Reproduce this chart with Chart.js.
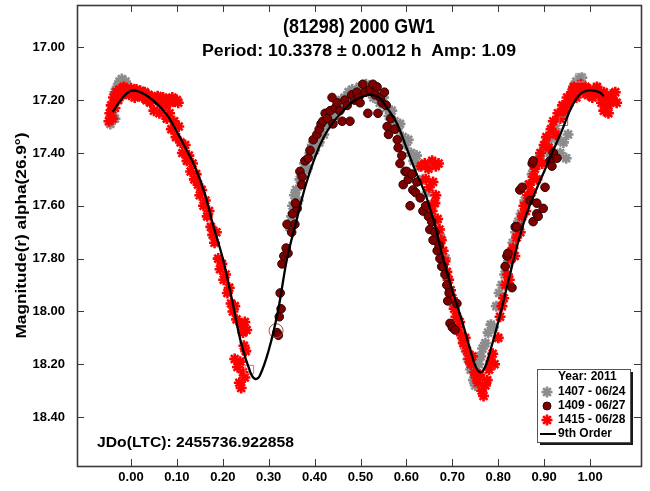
<!DOCTYPE html>
<html>
<head>
<meta charset="utf-8">
<script src="https://cdn.jsdelivr.net/npm/chart.js@4/dist/chart.umd.min.js"></script>
<style>
  html, body { margin: 0; padding: 0; background: #ffffff; }
  #wrap { width: 650px; height: 491px; }
</style>
</head>
<body>
<div id="wrap"><canvas id="lc" width="650" height="491"></canvas></div>
<script>
// ---- axis ticks ----
const xTicks = [0.0, 0.1, 0.2, 0.3, 0.4, 0.5, 0.6, 0.7, 0.8, 0.9, 1.0];
const yTicks = [17.0, 17.2, 17.4, 17.6, 17.8, 18.0, 18.2, 18.4];

// ---- 9th order Fourier fit ----
const fitPhase = [-0.04,-0.02,0.00,0.02,0.04,0.06,0.08,0.10,0.12,0.14,0.16,0.18,0.20,0.22,0.24,0.26,0.27,0.28,0.30,0.32,0.34,0.36,0.38,0.40,0.42,0.44,0.46,0.48,0.50,0.52,0.54,0.56,0.58,0.60,0.62,0.64,0.66,0.68,0.70,0.72,0.74,0.75,0.76,0.77,0.78,0.80,0.82,0.84,0.86,0.88,0.90,0.92,0.94,0.96,0.98,1.00,1.02,1.03];
const fitMag   = [17.245,17.195,17.165,17.17,17.19,17.22,17.26,17.32,17.385,17.455,17.55,17.68,17.80,17.955,18.12,18.23,18.255,18.245,18.147,18.00,17.80,17.66,17.525,17.42,17.34,17.285,17.245,17.21,17.19,17.18,17.19,17.235,17.29,17.38,17.47,17.55,17.66,17.80,17.92,18.03,18.15,18.205,18.23,18.215,18.165,18.04,17.90,17.76,17.64,17.55,17.47,17.39,17.31,17.225,17.175,17.163,17.17,17.185];

// ---- session 1407 (2011-06-24) ----
const s1407Phase = [-0.045,-0.042,-0.038,-0.035,-0.035,-0.030,-0.025,-0.020,-0.012,
  0.345,0.350,0.352,0.356,0.360,0.364,0.368,0.372,0.378,0.384,0.390,0.395,0.400,0.405,0.410,0.415,0.420,0.428,0.435,0.442,0.450,0.458,0.466,0.474,0.482,0.490,0.498,0.505,0.512,0.520,0.528,0.535,0.542,0.550,0.556,0.562,0.568,0.574,0.580,0.586,0.592,0.598,0.604,0.610,0.616,0.622,0.628,
  0.636,0.645,0.655,0.665,0.675,0.685,0.690,0.696,0.702,0.710,0.716,0.722,0.728,0.734,0.740,0.746,0.750,0.754,0.758,0.762,
  0.766,0.772,0.778,0.784,0.790,0.796,0.802,0.808,0.814,0.820,0.826,0.832,0.838,0.844,0.850,0.858,0.866,0.874,0.882,0.890,0.898,0.906,0.912,0.918,0.924,0.930,0.935,0.942,0.948,0.952,0.944,0.952,0.958,0.964,0.970,0.976,0.982];
const s1407Mag = [17.29,17.25,17.21,17.17,17.27,17.15,17.13,17.12,17.13,
  17.68,17.64,17.60,17.56,17.54,17.58,17.50,17.47,17.44,17.46,17.40,17.37,17.39,17.34,17.36,17.31,17.33,17.29,17.27,17.26,17.22,17.20,17.19,17.17,17.16,17.18,17.15,17.17,17.14,17.16,17.19,17.17,17.21,17.19,17.23,17.26,17.24,17.28,17.31,17.29,17.34,17.37,17.35,17.40,17.43,17.41,17.45,
  17.50,17.55,17.60,17.66,17.72,17.80,17.88,17.92,17.97,18.02,18.07,18.10,18.14,18.18,18.22,18.26,18.28,18.24,18.20,18.17,
  18.14,18.12,18.08,18.05,18.06,17.98,17.93,17.90,17.86,17.82,17.78,17.74,17.70,17.66,17.63,17.58,17.52,17.48,17.44,17.42,17.39,17.36,17.40,17.34,17.31,17.35,17.40,17.36,17.42,17.33,17.25,17.22,17.18,17.15,17.13,17.12,17.115];

// ---- session 1409 (2011-06-27) ----
const s1409Phase = [0.318,0.321,0.323,0.327,0.325,0.329,0.333,0.338,0.342,0.340,0.350,0.352,0.357,0.362,0.358,
  0.368,0.372,0.373,0.379,0.386,0.390,0.397,0.405,0.410,0.414,0.418,0.423,0.428,0.434,0.438,0.440,0.445,0.449,0.455,0.460,0.466,0.471,0.477,0.481,0.487,0.492,0.496,0.499,0.505,0.510,0.516,0.521,0.527,0.532,0.536,0.538,0.543,0.547,0.552,0.556,0.558,0.561,0.566,0.575,0.580,0.582,0.586,0.590,0.593,0.597,0.601,0.604,0.608,0.612,0.614,0.620,0.623,0.630,0.636,0.642,0.648,0.651,0.655,0.658,0.662,0.667,0.671,0.673,0.677,0.680,0.684,0.688,0.690,0.693,0.695,0.700,0.706,0.710,
  0.815,0.819,0.821,0.830,0.837,0.840,0.847,0.852,0.869,0.874,0.876,0.876,0.884,0.884,0.887,0.898,0.902,0.913,0.917,0.920,0.928];
const s1409Mag = [18.08,18.09,18.02,17.99,17.93,17.82,17.79,17.76,17.78,17.67,17.70,17.63,17.67,17.61,17.59,
  17.47,17.52,17.49,17.43,17.42,17.39,17.35,17.33,17.31,17.29,17.28,17.25,17.27,17.24,17.19,17.29,17.23,17.21,17.24,17.28,17.20,17.22,17.28,17.18,17.20,17.17,17.19,17.21,17.14,17.17,17.25,17.16,17.14,17.18,17.15,17.25,17.19,17.21,17.17,17.22,17.30,17.33,17.27,17.31,17.35,17.38,17.44,17.41,17.52,17.47,17.47,17.50,17.60,17.48,17.54,17.55,17.51,17.57,17.62,17.60,17.64,17.69,17.66,17.73,17.70,17.77,17.75,17.80,17.83,17.83,17.86,17.90,17.96,17.93,18.045,18.06,18.07,17.97,
  17.83,17.79,17.78,17.91,17.68,17.68,17.54,17.53,17.58,17.44,17.43,17.66,17.63,17.59,17.64,17.61,17.53,17.43,17.45,17.40,17.42];

// ---- session 1415 (2011-06-28) ----
const s1415Phase = [-0.048,-0.046,-0.043,-0.040,-0.038,-0.035,-0.032,-0.028,-0.025,-0.020,-0.016,-0.012,-0.008,-0.004,0.000,0.004,0.008,0.012,0.016,0.020,0.025,0.030,0.034,0.038,0.042,0.046,0.050,0.054,0.058,0.062,0.066,0.070,0.075,0.080,0.085,0.090,0.095,0.100,0.103,
  0.078,0.084,0.088,0.094,0.098,0.104,0.108,0.112,0.118,0.122,0.126,0.130,0.134,0.138,0.142,0.146,0.150,0.154,0.158,0.162,0.166,0.170,0.174,0.178,0.182,0.186,0.190,0.194,0.198,0.202,0.206,0.210,0.214,0.218,0.222,0.226,0.230,0.240,0.244,0.248,0.252,0.246,0.250,0.226,0.232,0.238,0.244,0.236,0.248,0.240,
  0.632,0.640,0.648,0.656,0.664,0.670,0.642,0.650,0.658,0.664,0.648,0.656,0.662,0.668,0.672,0.676,0.680,0.684,0.688,0.692,0.696,0.700,0.704,0.708,0.712,0.716,0.720,0.724,0.728,0.732,0.736,0.740,0.744,0.748,0.752,0.756,0.760,0.764,0.768,0.772,0.776,0.780,0.784,0.788,0.792,
  0.800,0.804,0.808,0.812,0.816,0.820,0.824,0.828,0.832,0.836,0.840,0.844,0.848,0.852,0.856,0.860,0.864,0.868,0.872,0.876,0.880,0.884,0.888,0.892,0.896,0.900,0.905,0.910,0.915,0.920,0.925,0.930,0.935,0.940,0.945,0.950,0.955,0.960,0.965,0.970,0.975,0.980,0.985,0.990,0.995,1.000,1.005,1.010,1.015,1.020,1.025,1.030,1.035,1.040,1.045,1.050,1.055,1.058,1.030,1.040];
const s1415Mag = [17.28,17.25,17.22,17.27,17.19,17.23,17.17,17.20,17.16,17.18,17.15,17.17,17.16,17.18,17.155,17.17,17.19,17.16,17.18,17.165,17.19,17.17,17.20,17.18,17.21,17.19,17.24,17.20,17.185,17.25,17.21,17.19,17.22,17.20,17.21,17.19,17.205,17.20,17.21,
  17.27,17.25,17.31,17.28,17.34,17.30,17.36,17.40,17.37,17.43,17.41,17.47,17.44,17.50,17.48,17.52,17.56,17.54,17.60,17.58,17.64,17.62,17.68,17.71,17.74,17.70,17.80,17.84,17.82,17.88,17.86,17.93,17.91,17.97,18.00,17.98,18.03,18.05,18.08,18.04,18.07,18.13,18.15,18.18,18.21,18.19,18.23,18.27,18.25,18.29,
  17.45,17.44,17.46,17.43,17.45,17.44,17.50,17.53,17.51,17.56,17.60,17.62,17.59,17.65,17.69,17.73,17.77,17.81,17.85,17.88,17.92,17.95,17.99,18.02,18.06,18.04,18.09,18.12,18.10,18.15,18.18,18.20,18.17,18.23,18.25,18.27,18.24,18.30,18.32,18.28,18.26,18.22,18.19,18.16,18.20,
  18.10,18.02,17.98,17.95,17.90,17.86,17.88,17.80,17.76,17.79,17.72,17.68,17.70,17.64,17.60,17.62,17.56,17.52,17.55,17.49,17.46,17.50,17.43,17.40,17.44,17.37,17.34,17.38,17.31,17.28,17.33,17.25,17.27,17.22,17.24,17.19,17.21,17.17,17.15,17.19,17.16,17.14,17.17,17.15,17.18,17.16,17.19,17.17,17.15,17.18,17.21,17.17,17.19,17.22,17.18,17.20,17.17,17.21,17.24,17.25];

// ---- first observation of each session ----
const startPhase = [0.258, 0.942, 0.978, 0.316];
const startMag   = [18.22, 17.28, 17.115, 18.073];

const legendTitle = 'Year: 2011';
const chartTitle = '(81298) 2000 GW1';
const chartSubtitle = 'Period: 10.3378 \u00b1 0.0012 h  Amp: 1.09';
const epochText = 'JDo(LTC): 2455736.922858';
const yTitle = 'Magnitude(r) alpha(26.9\u00b0)';

const FONT = '"Liberation Sans", Arial, sans-serif';
const pts = (px, my) => px.map((p, i) => ({ x: p, y: my[i] }));

const COL_1407 = '#8c8c8c';
const COL_1409 = '#800000';
const COL_1415 = '#ff0000';

const datasets = [
  { label: '9th Order', type: 'line', data: pts(fitPhase, fitMag), borderColor: '#000000',
    borderWidth: 2.3, pointRadius: 0, showLine: true, tension: 0.4, fill: false, order: 0 },
  { label: 'start', data: pts(startPhase, startMag), pointStyle: ['rect', 'rect', 'rect', 'circle'],
    pointRadius: [6, 6, 6, 7], borderColor: ['#ff6060', '#b06060', '#a0a0a0', '#b04040'],
    backgroundColor: 'rgba(0,0,0,0)', pointBorderWidth: 1, order: 1 },
  { label: '1409 - 06/27', data: pts(s1409Phase, s1409Mag), pointStyle: 'circle', pointRadius: 4.3,
    backgroundColor: COL_1409, borderColor: '#2b0000', pointBorderWidth: 1, order: 2 },
  { label: '1415 - 06/28', data: pts(s1415Phase, s1415Mag), pointStyle: 'star', pointRadius: 5.5,
    backgroundColor: COL_1415, borderColor: COL_1415, pointBorderWidth: 2.6, order: 3 },
  { label: '1407 - 06/24', data: pts(s1407Phase, s1407Mag), pointStyle: 'star', pointRadius: 5.5,
    backgroundColor: COL_1407, borderColor: COL_1407, pointBorderWidth: 2.6, order: 4 }
];

const legendRows = [
  { text: '1407 - 06/24', style: 'star', color: COL_1407, edge: COL_1407, r: 5.5, bw: 2.6 },
  { text: '1409 - 06/27', style: 'circle', color: COL_1409, edge: '#2b0000', r: 4, bw: 1 },
  { text: '1415 - 06/28', style: 'star', color: COL_1415, edge: COL_1415, r: 5.5, bw: 2.6 },
  { text: '9th Order', style: 'line' }
];

// text drawn with an optional horizontal squeeze so it keeps a given width
function wideText(ctx, text, x, y, font, width, align) {
  ctx.save();
  ctx.font = font;
  const w = ctx.measureText(text).width;
  const k = width ? width / w : 1;
  ctx.translate(x, y);
  ctx.scale(k, 1);
  ctx.textAlign = align;
  ctx.textBaseline = 'middle';
  ctx.fillText(text, 0, 0);
  ctx.restore();
}

const decor = {
  id: 'decor',
  afterDatasetsDraw(chart) {
    const { ctx, chartArea: a, scales: { x, y } } = chart;
    ctx.save();
    // frame and inward ticks
    ctx.strokeStyle = '#3a3a3a';
    ctx.lineWidth = 1;
    const tl = 7;
    ctx.beginPath();
    xTicks.forEach(v => {
      const px = Math.round(x.getPixelForValue(v)) + 0.5;
      ctx.moveTo(px, a.bottom); ctx.lineTo(px, a.bottom - tl);
      ctx.moveTo(px, a.top); ctx.lineTo(px, a.top + tl);
    });
    yTicks.forEach(v => {
      const py = Math.round(y.getPixelForValue(v)) + 0.5;
      ctx.moveTo(a.left, py); ctx.lineTo(a.left + tl, py);
      ctx.moveTo(a.right, py); ctx.lineTo(a.right - tl, py);
    });
    ctx.stroke();
    ctx.lineWidth = 1.6;
    ctx.strokeRect(a.left + 0.5, a.top + 0.5, a.right - a.left, a.bottom - a.top);

    // titles
    const cx = (a.left + a.right) / 2;
    ctx.fillStyle = '#000';
    wideText(ctx, chartTitle, cx, 27, 'bold 21px ' + FONT, 152, 'center');
    wideText(ctx, chartSubtitle, cx, 52, 'bold 16px ' + FONT, 314, 'center');
    wideText(ctx, epochText, 97, 443, 'bold 15px ' + FONT, 197, 'left');

    // y-axis title
    ctx.save();
    ctx.translate(22, (a.top + a.bottom) / 2);
    ctx.rotate(-Math.PI / 2);
    wideText(ctx, yTitle, 0, 0, 'bold 14px ' + FONT, 206, 'center');
    ctx.restore();

    // legend box
    const bx = 537, by = 369, bw = 93, bh = 73;
    ctx.fillStyle = '#1a1a1a';
    ctx.fillRect(bx + 3, by + 3, bw, bh);
    ctx.fillStyle = '#ffffff';
    ctx.fillRect(bx, by, bw, bh);
    ctx.strokeStyle = '#555';
    ctx.lineWidth = 1;
    ctx.strokeRect(bx + 0.5, by + 0.5, bw, bh);

    ctx.font = 'bold 12px ' + FONT;
    ctx.textAlign = 'left';
    ctx.textBaseline = 'middle';
    ctx.fillStyle = '#000';
    ctx.fillText(legendTitle, 558, 377);
    const rowY = [392, 406, 420, 434];
    legendRows.forEach((r, i) => {
      const ry = rowY[i];
      if (r.style === 'line') {
        ctx.strokeStyle = '#000';
        ctx.lineWidth = 2;
        ctx.beginPath(); ctx.moveTo(540, ry); ctx.lineTo(556, ry); ctx.stroke();
      } else {
        ctx.fillStyle = r.color;
        ctx.strokeStyle = r.edge;
        ctx.lineWidth = r.bw;
        Chart.helpers.drawPoint(ctx, { pointStyle: r.style, radius: r.r, rotation: 0, borderWidth: r.bw }, 547, ry);
      }
      ctx.fillStyle = '#000';
      ctx.fillText(r.text, 558, ry);
    });
    ctx.restore();
  }
};

const tickFont = { family: FONT, size: 13, weight: 'bold' };
const noPad = s => { s.paddingTop = 0; s.paddingBottom = 0; s.paddingLeft = 0; s.paddingRight = 0; };

new Chart(document.getElementById('lc'), {
  type: 'scatter',
  data: { datasets },
  options: {
    responsive: false,
    animation: false,
    devicePixelRatio: 1,
    layout: { autoPadding: false, padding: { left: 0, top: 5, right: 9, bottom: 0 } },
    plugins: { legend: { display: false }, tooltip: { enabled: false }, title: { display: false } },
    scales: {
      x: {
        type: 'linear', min: -0.1176, max: 1.111,
        afterBuildTicks: s => { s.ticks = xTicks.map(v => ({ value: v })); },
        afterFit: s => { s.height = 25; noPad(s); },
        ticks: { callback: v => Number(v).toFixed(2), font: tickFont, color: '#000', padding: 4, maxRotation: 0, autoSkip: false },
        grid: { display: false, drawTicks: false },
        border: { display: false }
      },
      y: {
        type: 'linear', reverse: true, min: 16.84, max: 18.585,
        afterBuildTicks: s => { s.ticks = yTicks.map(v => ({ value: v })); },
        afterFit: s => { s.width = 77; noPad(s); },
        ticks: { callback: v => Number(v).toFixed(2), font: tickFont, color: '#000', padding: 12, autoSkip: false },
        grid: { display: false, drawTicks: false },
        border: { display: false }
      }
    }
  },
  plugins: [decor]
});
</script>
</body>
</html>
